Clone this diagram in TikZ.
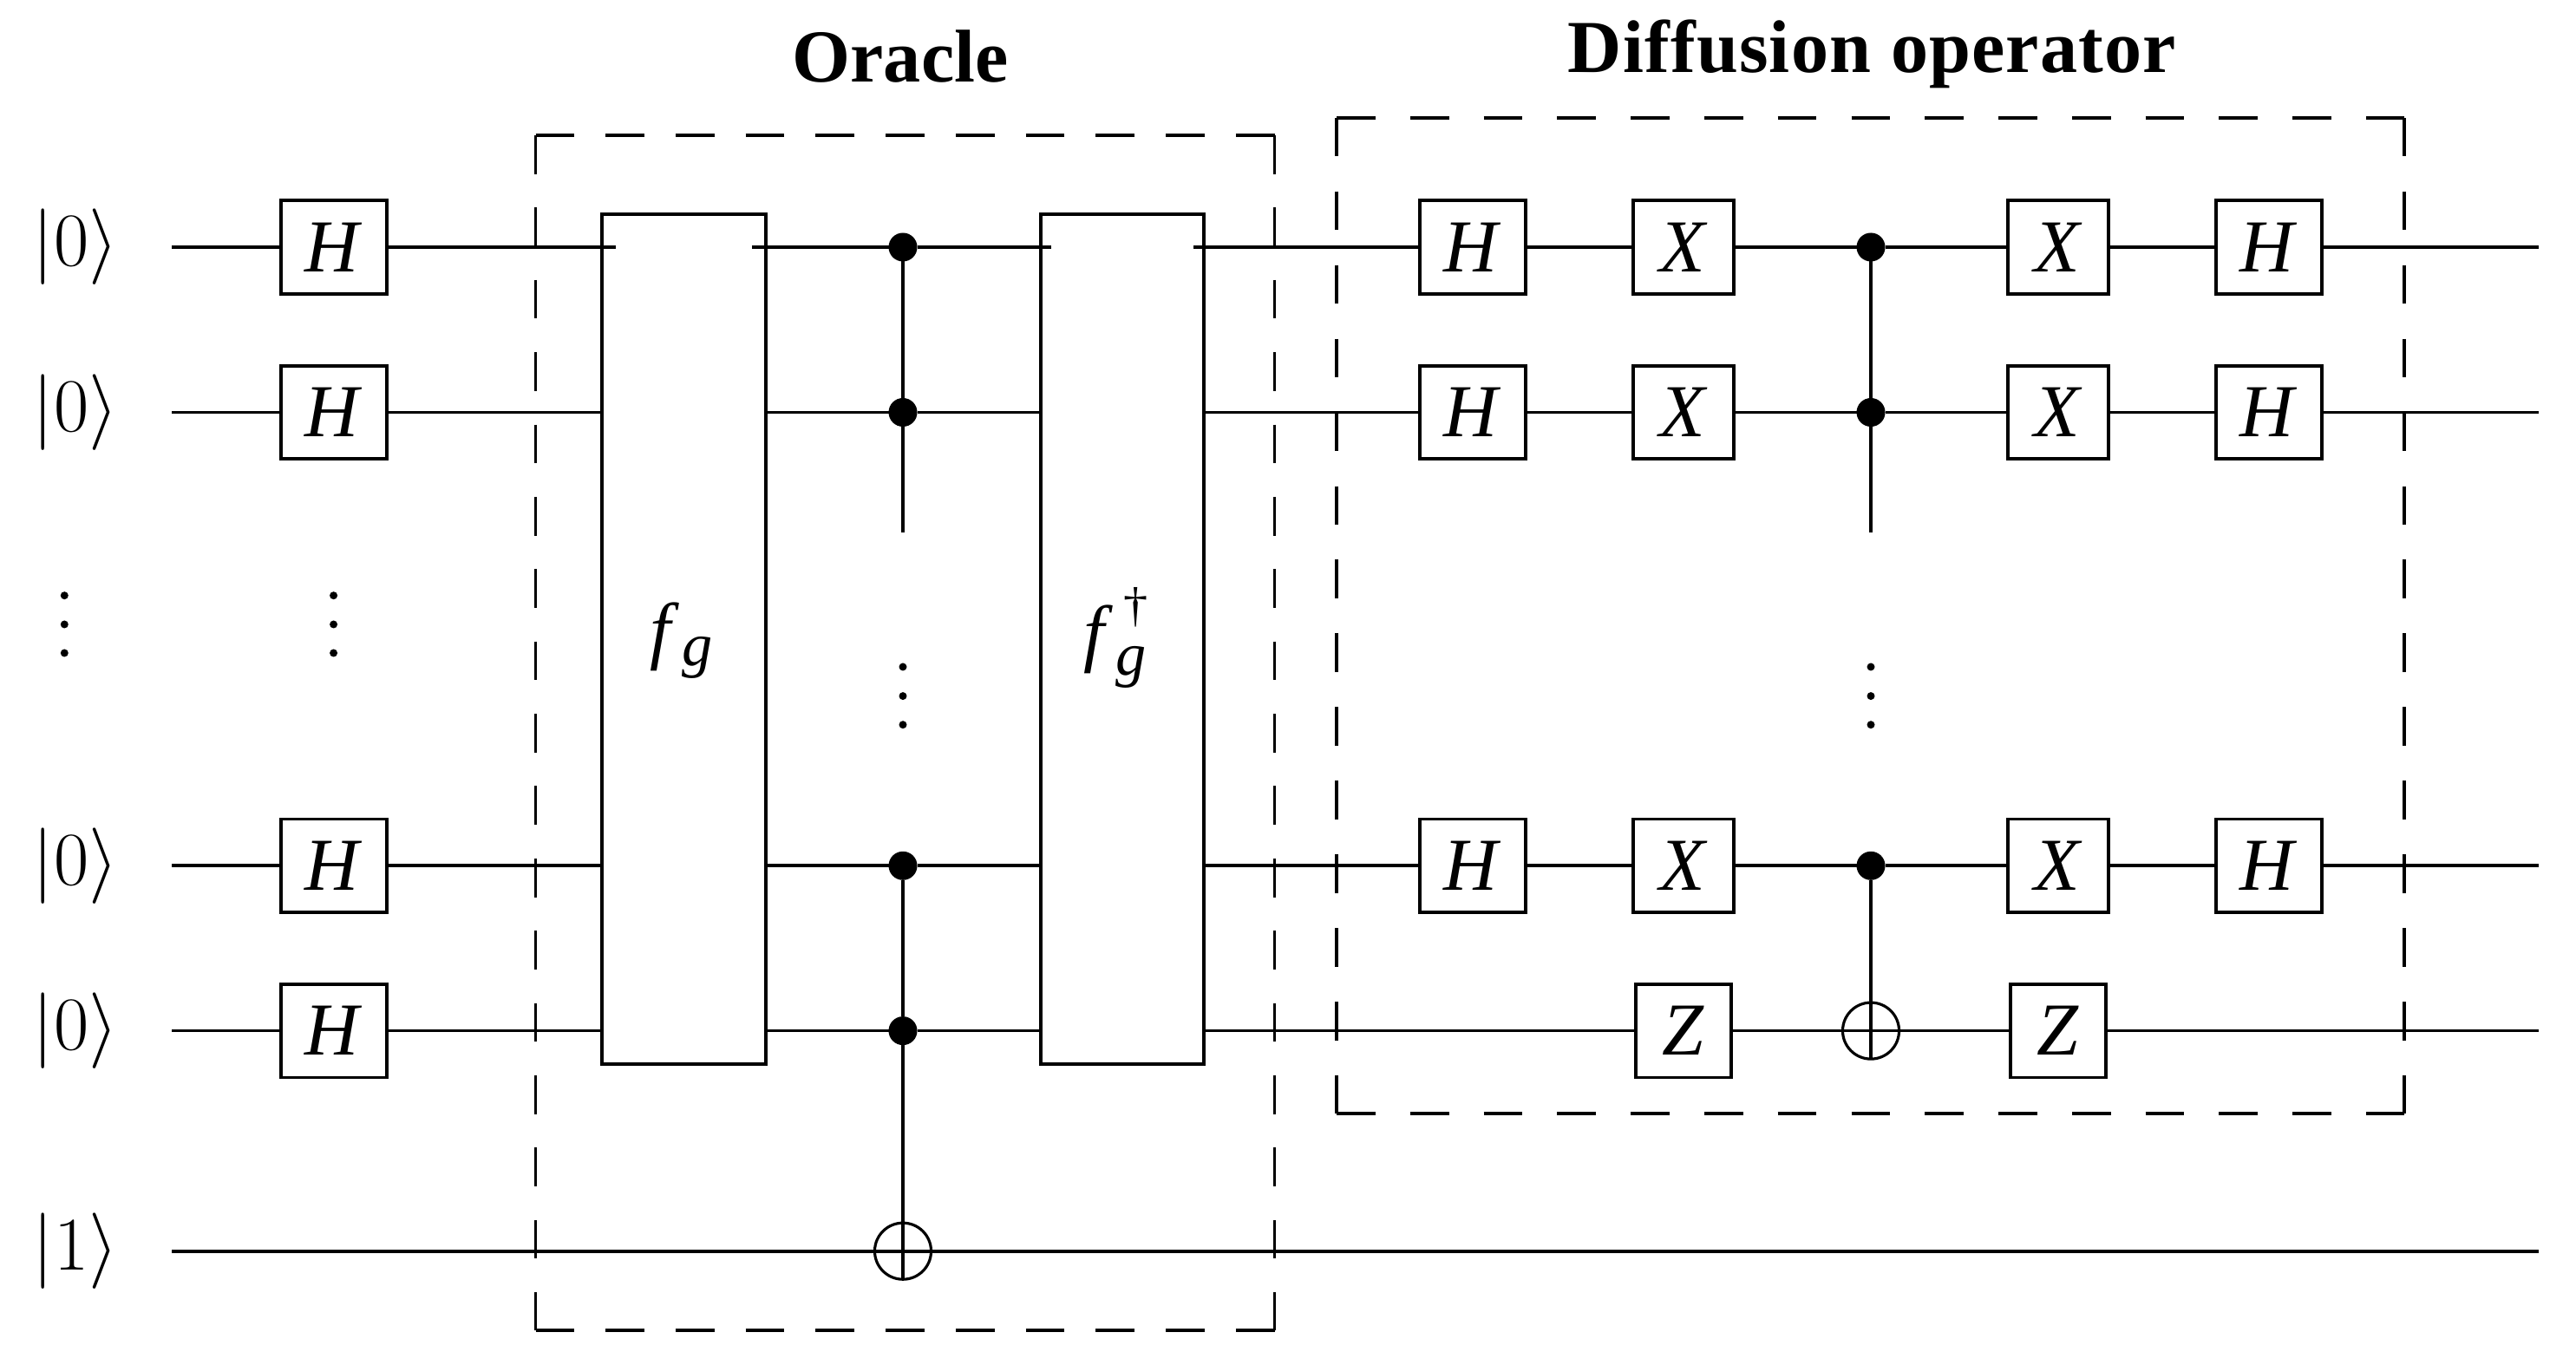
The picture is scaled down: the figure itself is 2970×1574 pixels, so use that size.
\documentclass[tikz,border=0pt]{standalone}
\usepackage{fontspec}
\setmainfont{Liberation Serif}
\newcommand{\scriptg}{{\itshape\fontsize{20}{20}\selectfont g}}
\newcommand{\scriptdag}{{\fontsize{16}{16}\selectfont †}}
\tikzset{
  x=0.01cm, y=-0.01cm,
  every node/.style={inner sep=0pt, outer sep=0pt},
  big/.style={font=\fontsize{24.5}{28}\selectfont},
  wire/.style={line width=1.05pt},
  ctrlline/.style={line width=0.9pt},
  gate/.style={draw, line width=1.05pt, fill=white, minimum height=1.075cm, big},
  hgate/.style={gate, minimum width=1.22cm},
  xgate/.style={gate, minimum width=1.155cm},
  zgate/.style={gate, minimum width=1.10cm},
  tallgate/.style={draw, line width=1.05pt, fill=white, minimum width=1.885cm, minimum height=9.79cm},
  ctrl/.style={circle, fill=black, minimum size=0.33cm},
  targ/.style={circle, draw, line width=0.9pt, fill=white, minimum size=0.65cm},
  qdot/.style={circle, fill=black, minimum size=0.09cm},
  ket/.style={big},
  flabel/.style={big, anchor=base west},
  title/.style={font=\bfseries\fontsize{24.5}{28}\selectfont, anchor=base},
  fence/.style={line width=1.05pt}
}
\begin{document}
\begin{tikzpicture}
\useasboundingbox (0,0) rectangle (2970,1574);
\fill[white] (0,0) rectangle (2970,1574);
% titles
\node[title] (oracle) at (1038,94.4) {Oracle};
\node[title] (diff) at (2158.5,84) {\addfontfeature{LetterSpace=1.4}Diffusion operator};
% kets
\node[ket] (k1) at (87,285) {$|0\rangle$};
\node[ket] (k2) at (87,475.5) {$|0\rangle$};
\node[ket] (k3) at (87,998.3) {$|0\rangle$};
\node[ket] (k4) at (87,1188.6) {$|0\rangle$};
\node[ket] (k5) at (87,1442.7) {$|1\rangle$};
% ellipsis dots
\node[qdot] (dl1) at (74.3,686.7) {};
\node[qdot] (dl2) at (74.3,720) {};
\node[qdot] (dl3) at (74.3,753) {};
\node[qdot] (dh1a) at (384.6,686.7) {};
\node[qdot] (dh2a) at (384.6,720) {};
\node[qdot] (dh3a) at (384.6,753) {};
\node[qdot] (dc1) at (1041,769) {};
\node[qdot] (dc2) at (1041,802.6) {};
\node[qdot] (dc3) at (1041,835.7) {};
\node[qdot] (dd1) at (2157,769) {};
\node[qdot] (dd2) at (2157,802.6) {};
\node[qdot] (dd3) at (2157,835.7) {};
% wire ends
\coordinate (s1) at (198,285);
\coordinate (s2) at (198,475.5);
\coordinate (s3) at (198,998.3);
\coordinate (s4) at (198,1188.6);
\coordinate (s5) at (198,1442.7);
\coordinate (t1) at (2927,285);
\coordinate (t2) at (2927,475.5);
\coordinate (t3) at (2927,998.3);
\coordinate (t4) at (2927,1188.6);
\coordinate (t5) at (2927,1442.7);
% first H column
\node[hgate] (h1) at (384.7,285) {\textit{H}};
\node[hgate] (h2) at (384.7,475.5) {\textit{H}};
\node[hgate] (h3) at (384.7,998.3) {\textit{H}};
\node[hgate] (h4) at (384.7,1188.6) {\textit{H}};
% oracle blocks
\node[tallgate] (fg) at (788.5,737) {};
\node[tallgate] (fd) at (1294,737) {};
\node[flabel] (fgl) at (749,756) {\textit{f}\kern1pt\raisebox{-3.3pt}{\scriptg}};
\node[flabel] (fdl) at (1249,759) {\textit{f}\kern1pt\rlap{\raisebox{-5.5pt}{\scriptg}}\kern2.7pt\raisebox{12pt}{\scriptdag}};
% row-1 stubs that run into the blocks
\coordinate (fgin) at (710,285);
\coordinate (fgout) at (867,285);
\coordinate (fdin) at (1212,285);
\coordinate (fdout) at (1376,285);
% oracle controls
\node[ctrl] (a1) at (1041,285) {};
\node[ctrl] (a2) at (1041,475.5) {};
\node[ctrl] (a3) at (1041,998.3) {};
\node[ctrl] (a4) at (1041,1188.6) {};
\node[targ] (a5) at (1041,1442.7) {};
\coordinate (aend) at (1041,614);
% diffusion gates
\node[hgate] (dh1) at (1698,285) {\textit{H}};
\node[hgate] (dh2) at (1698,475.5) {\textit{H}};
\node[hgate] (dh3) at (1698,998.3) {\textit{H}};
\node[xgate] (dx1) at (1941,285) {\textit{X}};
\node[xgate] (dx2) at (1941,475.5) {\textit{X}};
\node[xgate] (dx3) at (1941,998.3) {\textit{X}};
\node[zgate] (dz4) at (1941,1188.6) {\textit{Z}};
\node[ctrl] (b1) at (2157,285) {};
\node[ctrl] (b2) at (2157,475.5) {};
\node[ctrl] (b3) at (2157,998.3) {};
\node[targ] (b4) at (2157,1188.6) {};
\coordinate (bend) at (2157,614);
\node[xgate] (ex1) at (2373,285) {\textit{X}};
\node[xgate] (ex2) at (2373,475.5) {\textit{X}};
\node[xgate] (ex3) at (2373,998.3) {\textit{X}};
\node[zgate] (ez4) at (2373,1188.6) {\textit{Z}};
\node[hgate] (eh1) at (2616,285) {\textit{H}};
\node[hgate] (eh2) at (2616,475.5) {\textit{H}};
\node[hgate] (eh3) at (2616,998.3) {\textit{H}};
% wires
\draw[wire] (s1) -- (h1.west) (h1.east) -- (fgin) (fgout) -- (a1) -- (fdin) (fdout) -- (dh1.west)
  (dh1.east) -- (dx1.west) (dx1.east) -- (b1) -- (ex1.west) (ex1.east) -- (eh1.west) (eh1.east) -- (t1);
\draw[wire] (s2) -- (h2.west) (h2.east) -- (h2.east -| fg.west) (h2.east -| fg.east) -- (a2) -- (a2 -| fd.west)
  (a2 -| fd.east) -- (dh2.west) (dh2.east) -- (dx2.west) (dx2.east) -- (b2) -- (ex2.west) (ex2.east) -- (eh2.west) (eh2.east) -- (t2);
\draw[wire] (s3) -- (h3.west) (h3.east) -- (h3.east -| fg.west) (h3.east -| fg.east) -- (a3) -- (a3 -| fd.west)
  (a3 -| fd.east) -- (dh3.west) (dh3.east) -- (dx3.west) (dx3.east) -- (b3) -- (ex3.west) (ex3.east) -- (eh3.west) (eh3.east) -- (t3);
\draw[wire] (s4) -- (h4.west) (h4.east) -- (h4.east -| fg.west) (h4.east -| fg.east) -- (a4) -- (a4 -| fd.west)
  (a4 -| fd.east) -- (dz4.west) (dz4.east) -- (b4.center) -- (ez4.west) (ez4.east) -- (t4);
\draw[wire] (s5) -- (a5.center) -- (t5);
% control lines
\draw[ctrlline] (a1) -- (a2) -- (aend);
\draw[ctrlline] (a3) -- (a4) -- (a5.south);
\draw[ctrlline] (b1) -- (b2) -- (bend);
\draw[ctrlline] (b3) -- (b4.south);
% dashed groups
\coordinate (o1) at (617.5,156);
\coordinate (o2) at (1469.5,156);
\coordinate (o3) at (1469.5,1534);
\coordinate (o4) at (617.5,1534);
\draw[fence, dash pattern=on 12.72pt off 10.24pt] (o1) -- (o2) (o4) -- (o3);
\draw[fence, dash pattern=on 12.72pt off 10.99pt] (o1) -- (o4) (o2) -- (o3);
\coordinate (p1) at (1541,135.7);
\coordinate (p2) at (2772,135.7);
\coordinate (p3) at (2772,1284.3);
\coordinate (p4) at (1541,1284.3);
\draw[fence, dash pattern=on 12.72pt off 11.39pt] (p1) -- (p2) (p4) -- (p3);
\draw[fence, dash pattern=on 12.72pt off 11.44pt] (p1) -- (p4) (p2) -- (p3);
\end{tikzpicture}
\end{document}
